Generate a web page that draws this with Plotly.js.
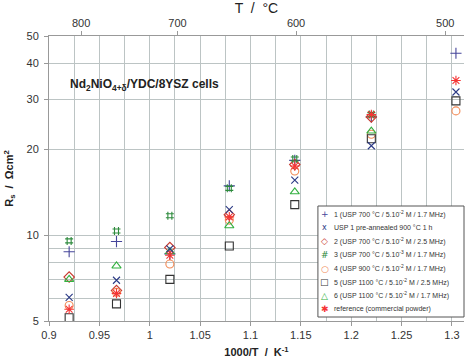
<!DOCTYPE html>
<html>
<head>
<meta charset="utf-8">
<script src="https://cdn.plot.ly/plotly-3.0.1.min.js"></script>
<style>html,body{margin:0;padding:0;background:#fff;}#chart{width:470px;height:362px;}</style>
</head>
<body>
<div id="chart"></div>
<script>
// 1000/T in K^-1
var invT = [0.920, 0.967, 1.020, 1.079, 1.144, 1.220, 1.304];
// Rs in Ohm cm^2
var s1   = [8.75, 9.5, 8.6, 14.9, 18.3, 26.0, 43.5];
var pre  = [6.05, 6.95, 8.95, 12.3, 15.6, 20.6, 31.8];
var s2   = [7.13, 6.4, 9.05, 11.8, 17.7, 26.0, null];
var s3   = [9.55, 10.35, 11.7, 14.6, 18.5, 26.5, null];
var s4   = [5.67, 6.3, 7.92, 11.3, 16.8, 22.6, 27.3];
var s5   = [5.13, 5.74, 7.0, 9.17, 12.8, 21.8, 29.6];
var s6   = [7.0, 7.8, 8.75, 10.8, 14.2, 23.2, null];
var ref  = [5.5, 6.25, 8.5, 11.6, 17.5, 26.5, 34.9];

var names = [
  '1 (USP 700 °C / 5.10<sup>-2</sup> M / 1.7 MHz)',
  'USP 1 pre-annealed 900 °C 1 h',
  '2 (USP 700 °C / 5.10<sup>-2</sup> M / 2.5 MHz)',
  '3 (USP 700 °C / 5.10<sup>-3</sup> M / 1.7 MHz)',
  '4 (USP 900 °C / 5.10<sup>-2</sup> M / 1.7 MHz)',
  '5 (USP 1100 °C / 5.10<sup>-2</sup> M / 2.5 MHz)',
  '6 (USP 1100 °C / 5.10<sup>-2</sup> M / 1.7 MHz)',
  'reference (commercial powder)'
];
var legendGlyphs = ['+', 'x', '◇', '#', '○', '□', '△', '✱'];
var tempTicks = [800, 700, 600, 500];
var xTickVals = [0.9, 0.95, 1, 1.05, 1.1, 1.15, 1.2, 1.25, 1.3];
var yTickVals = [5, 10, 20, 30, 40, 50];
var yMinorVals = [6, 7, 8, 9];

var series = [s1, pre, s2, s3, s4, s5, s6, ref];
var symbols = ['cross-thin-open', 'x-thin-open', 'diamond-open', 'hash-open', 'circle-open', 'square-open', 'triangle-up-open', 'asterisk-open'];
var colors = ['#45459a', '#2b3a85', '#c8392e', '#2d8a3c', '#f28a55', '#333333', '#33b040', '#f53535'];
var sizes = [8, 7, 8, 8, 8, 8, 8, 8];
var xaxesOf = ['x', 'x2', 'x', 'x', 'x', 'x', 'x', 'x'];

var traces = series.map(function(s, i) {
  return {
    x: invT, y: s, name: names[i], type: 'scatter', mode: 'markers',
    xaxis: xaxesOf[i], yaxis: 'y', showlegend: false,
    marker: {symbol: symbols[i], size: sizes[i], color: colors[i], line: {color: colors[i], width: 1.1}}
  };
});

var gridc = '#bcc4c4';
var font = 'Liberation Sans, Arial, sans-serif';

// custom compact legend (paper coordinates)
var legX0 = 0.648, legX1 = 1.0, legY0 = 0.014, legY1 = 0.4035;
var legTop = 0.375, legStep = 0.0478;
var annotations = [{
  xref: 'paper', yref: 'paper', x: 0.046, y: 0.828, xanchor: 'left', yanchor: 'middle',
  text: '<b>Nd<sub>2</sub>NiO<sub>4+δ</sub>/YDC/8YSZ cells</b>', showarrow: false,
  font: {family: font, size: 12, color: '#222'}
}];
names.forEach(function(n, i) {
  var yy = legTop - i * legStep;
  annotations.push({
    xref: 'paper', yref: 'paper', x: 0.665, y: yy, xanchor: 'center', yanchor: 'middle',
    text: legendGlyphs[i], showarrow: false,
    font: {family: 'DejaVu Sans, sans-serif', size: i === 1 ? 8 : 9, color: colors[i]}
  });
  annotations.push({
    xref: 'paper', yref: 'paper', x: 0.683, y: yy, xanchor: 'left', yanchor: 'middle',
    text: n, showarrow: false,
    font: {family: font, size: 7, color: '#333'}
  });
});

var layout = {
  width: 470, height: 362,
  margin: {l: 49, r: 6, t: 36, b: 41},
  paper_bgcolor: '#fff', plot_bgcolor: '#fff',
  font: {family: font, size: 11, color: '#333'},
  showlegend: false,
  xaxis: {
    range: [0.9, 1.312], tickmode: 'array', tickvals: xTickVals,
    ticktext: xTickVals.map(function(v){return String(v);}),
    showgrid: true, gridcolor: gridc, gridwidth: 1,
    minor: {dtick: 0.025, tick0: 0.9, showgrid: true, gridcolor: gridc, gridwidth: 1},
    showline: true, linecolor: '#999', linewidth: 1,
    ticks: 'outside', ticklen: 4, tickcolor: '#999',
    zeroline: false,
    title: {text: '<b>1000/T  /  K<sup>-1</sup></b>', font: {size: 11, color: '#222'}, standoff: 8},
    tickfont: {size: 11, color: '#333'}
  },
  xaxis2: {
    overlaying: 'x', side: 'top', anchor: 'y',
    range: [0.9, 1.312], tickmode: 'array',
    tickvals: tempTicks.map(function(t){return 1000/(t + 273.15);}),
    ticktext: tempTicks.map(function(t){return String(t);}),
    showgrid: false, showline: true, linecolor: '#999', linewidth: 1,
    ticks: 'outside', ticklen: 4, tickcolor: '#999', zeroline: false,
    automargin: false,
    title: {text: 'T  /  °C', font: {size: 14, color: '#222'}, standoff: 22},
    tickfont: {size: 11, color: '#333'}
  },
  yaxis: {
    type: 'log', range: [Math.log10(5), Math.log10(50)],
    tickmode: 'array', tickvals: yTickVals,
    ticktext: yTickVals.map(function(v){return String(v);}),
    showgrid: true, gridcolor: gridc, gridwidth: 1,
    minor: {tickmode: 'array', tickvals: yMinorVals, showgrid: true, gridcolor: gridc, gridwidth: 1},
    showline: true, linecolor: '#999', linewidth: 1,
    ticks: 'outside', ticklen: 4, tickcolor: '#999',
    ticklabelstandoff: 3,
    zeroline: false,
    title: {text: '<b>R<sub>s</sub>  /  Ωcm<sup>2</sup></b>', font: {size: 11, color: '#222'}, standoff: 10},
    tickfont: {size: 11, color: '#333'}
  },
  shapes: [{
    type: 'rect', xref: 'paper', yref: 'paper', x0: legX0, x1: legX1, y0: legY0, y1: legY1,
    line: {color: '#555', width: 1}, fillcolor: '#fff', layer: 'above'
  }],
  annotations: annotations
};

Plotly.newPlot('chart', traces, layout, {staticPlot: true, displayModeBar: false});
</script>
</body>
</html>
